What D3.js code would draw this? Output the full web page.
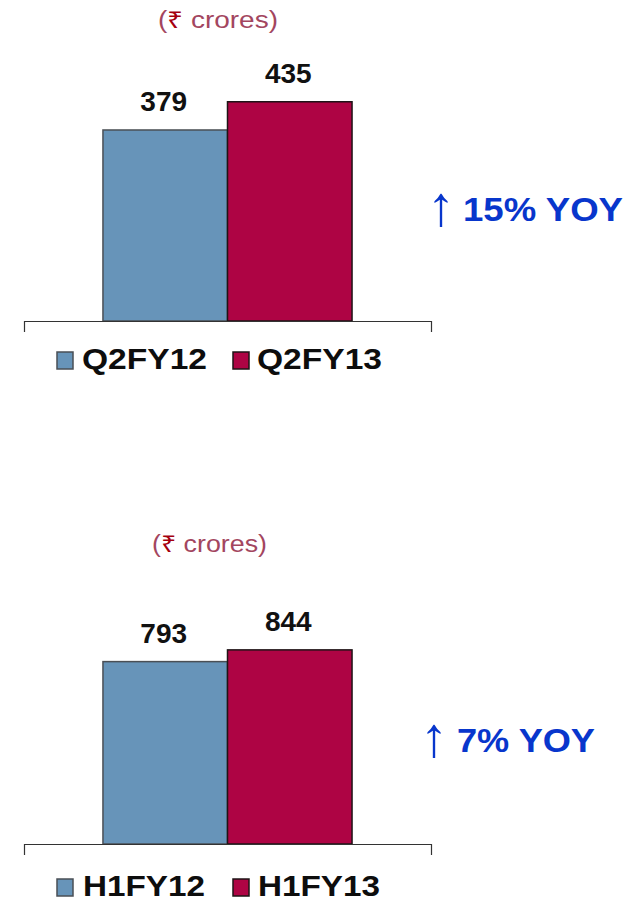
<!DOCTYPE html>
<html>
<head>
<meta charset="utf-8">
<script src="https://cdn.jsdelivr.net/npm/d3@7"></script>
<style>
  html, body { margin: 0; padding: 0; background: #fff; }
  svg { display: block; }
  text { font-family: "Liberation Sans", Arial, sans-serif; }
</style>
</head>
<body>
<svg id="chart" width="640" height="903"></svg>
<script>
// Values and labels
const unitPrefix = "(";
const unitSymbol = "₹";
const unitRest = " crores)";

const quarterSeries = ["Q2FY12", "Q2FY13"];
const quarterValues = [379, 435];
const quarterGrowth = "15% YOY";

const halfSeries = ["H1FY12", "H1FY13"];
const halfValues = [793, 844];
const halfGrowth = "7% YOY";

const seriesColors = ["#6794b9", "#ae0444"];
const seriesStrokes = ["#4a4f55", "#1e1416"];

const svg = d3.select("#chart");

function drawPanel(opt) {
  const g = svg.append("g");

  // single cluster spanning the axis, two bars inside it
  const x0 = d3.scaleBand().domain(["all"]).range([24, 431])
    .paddingOuter(0.317).paddingInner(0);
  const x1 = d3.scaleBand().domain(opt.series).range([0, x0.bandwidth()]).padding(0);
  const y = d3.scaleLinear().domain([0, opt.yMax]).range([opt.base, opt.base - opt.yPx]);

  const rows = opt.series.map((s, i) => ({ s, v: opt.values[i], i }));

  // unit caption
  const cap = g.append("text")
    .attr("x", opt.unitX).attr("y", opt.unitY)
    .attr("font-size", 23)
    .attr("textLength", opt.unitW).attr("lengthAdjust", "spacingAndGlyphs")
    .attr("fill", "#a3465f");
  cap.append("tspan").text(unitPrefix);
  cap.append("tspan").attr("fill", "#a5000f").text(unitSymbol);
  cap.append("tspan").text(unitRest);

  // bars
  g.selectAll("rect.bar").data(rows).join("rect")
    .attr("class", "bar")
    .attr("x", d => x0("all") + x1(d.s))
    .attr("width", x1.bandwidth())
    .attr("y", d => y(d.v))
    .attr("height", d => y(0) - y(d.v))
    .attr("fill", d => seriesColors[d.i])
    .attr("stroke", d => seriesStrokes[d.i])
    .attr("stroke-width", 1.5);

  // value labels
  g.selectAll("text.val").data(rows).join("text")
    .attr("class", "val")
    .attr("x", d => x0("all") + x1(d.s) + x1.bandwidth() / 2 - 1.5)
    .attr("y", d => y(d.v) - 19)
    .attr("text-anchor", "middle")
    .attr("font-size", 28)
    .attr("font-weight", "bold")
    .attr("fill", "#111")
    .text(d => d.v);

  // baseline with outer end ticks only
  const axis = d3.axisBottom(x0).tickSizeInner(0).tickSizeOuter(11).tickFormat(() => "");
  const ag = g.append("g").attr("transform", `translate(0,${opt.base})`).call(axis);
  ag.select(".domain").attr("stroke", "#333").attr("stroke-width", 1.2);
  ag.selectAll(".tick").remove();

  // legend
  const leg = g.selectAll("g.leg").data(rows).join("g").attr("class", "leg");
  leg.append("rect")
    .attr("x", d => opt.swatchX[d.i]).attr("y", opt.legY - 17)
    .attr("width", 16).attr("height", 17)
    .attr("fill", d => seriesColors[d.i])
    .attr("stroke", d => seriesStrokes[d.i]).attr("stroke-width", 1.5);
  leg.append("text")
    .attr("x", d => opt.legTextX[d.i]).attr("y", opt.legY)
    .attr("font-size", 30).attr("font-weight", "bold")
    .attr("textLength", opt.legW).attr("lengthAdjust", "spacingAndGlyphs")
    .attr("fill", "#0d0d0d")
    .text(d => d.s);

  // growth note
  g.append("text")
    .attr("x", opt.arrowX).attr("y", opt.growthY + 4)
    .attr("font-size", 56)
    .attr("fill", "#0836cc")
    .text("↑");
  g.append("text")
    .attr("x", opt.growthX).attr("y", opt.growthY)
    .attr("font-size", 33).attr("font-weight", "bold")
    .attr("textLength", opt.growthW).attr("lengthAdjust", "spacingAndGlyphs")
    .attr("fill", "#0836cc")
    .text(opt.growth);
}

drawPanel({
  series: quarterSeries, values: quarterValues, growth: quarterGrowth,
  base: 321, yMax: 500, yPx: 252,
  unitX: 158, unitY: 28, unitW: 120,
  swatchX: [57, 233], legTextX: [82, 257], legY: 369, legW: 125,
  arrowX: 427, growthX: 463, growthY: 221, growthW: 160
});

drawPanel({
  series: halfSeries, values: halfValues, growth: halfGrowth,
  base: 844, yMax: 1000, yPx: 230,
  unitX: 152, unitY: 552, unitW: 115,
  swatchX: [57, 233], legTextX: [83, 258], legY: 896, legW: 122,
  arrowX: 420, growthX: 457, growthY: 752, growthW: 138
});
</script>
</body>
</html>
